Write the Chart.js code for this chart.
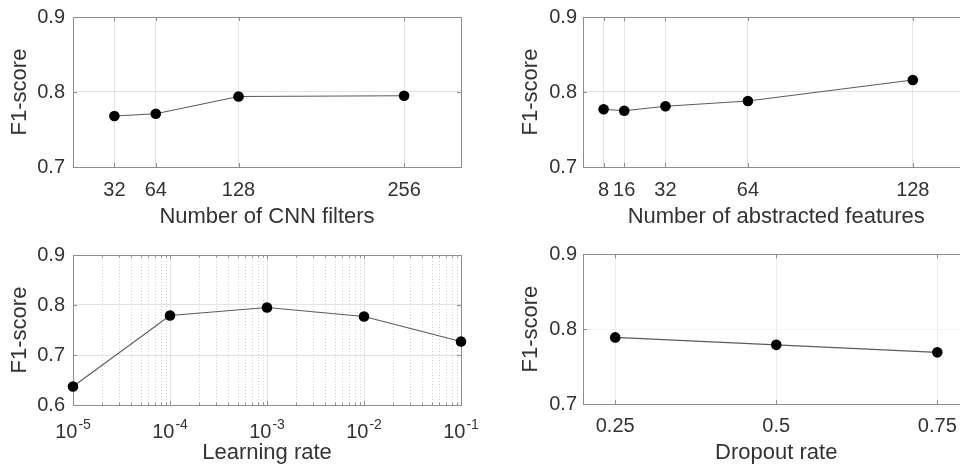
<!DOCTYPE html>
<html>
<head>
<meta charset="utf-8">
<title>F1-score vs hyperparameters</title>
<script src="https://cdn.jsdelivr.net/npm/chart.js@4.4.1/dist/chart.umd.min.js"></script>
<style>
  html, body { margin: 0; padding: 0; background: #fff; }
  #wrap { position: relative; width: 960px; height: 471px; overflow: hidden; }
  #wrap canvas { position: absolute; }
</style>
</head>
<body>
<div id="wrap">
  <canvas id="cnn" width="480" height="235" style="left:0;top:0"></canvas>
  <canvas id="feat" width="500" height="235" style="left:480px;top:0"></canvas>
  <canvas id="lr" width="480" height="236" style="left:0;top:235px"></canvas>
  <canvas id="drop" width="500" height="236" style="left:480px;top:235px"></canvas>
</div>
<script>
// data
const cnnFilters = [32, 64, 128, 256];
const cnnF1 = [0.768, 0.771, 0.794, 0.795];

const absFeatures = [8, 16, 32, 64, 128];
const absF1 = [0.777, 0.775, 0.781, 0.788, 0.816];

const learningRates = [1e-5, 1e-4, 1e-3, 1e-2, 1e-1];
const lrF1 = [0.637, 0.779, 0.795, 0.777, 0.727];
const lrTickExp = ['-5', '-4', '-3', '-2', '-1'];

const dropoutRates = [0.25, 0.5, 0.75];
const dropF1 = [0.789, 0.779, 0.769];

const TEXT = '#333333';
const GRID = '#e4e4e4';
const BOX = '#8e8e8e';
const FONT = "'Liberation Sans', Arial, sans-serif";

Chart.defaults.font.family = FONT;
Chart.defaults.color = TEXT;

// matlab-style axes box, inward tick marks, dotted minor grid on log axes
const axesBox = {
  id: 'axesBox',
  beforeDatasetsDraw(chart) {
    const { ctx, chartArea: a, scales: { x, y } } = chart;
    const seg = (x1, y1, x2, y2) => { ctx.beginPath(); ctx.moveTo(x1, y1); ctx.lineTo(x2, y2); ctx.stroke(); };
    ctx.save();
    ctx.lineWidth = 1;
    const minor = [];
    if (x.type === 'logarithmic') {
      for (let e = -5; e < -1; e++) {
        for (let m = 2; m <= 9; m++) minor.push(m * Math.pow(10, e));
      }
      ctx.strokeStyle = '#d2d2d2';
      ctx.setLineDash([1, 2]);
      minor.forEach(v => {
        const px = Math.round(x.getPixelForValue(v)) + 0.5;
        seg(px, a.top, px, a.bottom);
      });
      ctx.setLineDash([]);
    }
    ctx.strokeStyle = BOX;
    ctx.strokeRect(Math.round(a.left) + 0.5, Math.round(a.top) + 0.5,
      Math.round(a.right - a.left), Math.round(a.bottom - a.top));
    x.ticks.forEach(t => {
      const px = Math.round(x.getPixelForValue(t.value)) + 0.5;
      seg(px, a.bottom, px, a.bottom - 4);
      seg(px, a.top, px, a.top + 4);
    });
    minor.forEach(v => {
      const px = Math.round(x.getPixelForValue(v)) + 0.5;
      seg(px, a.bottom, px, a.bottom - 2.5);
      seg(px, a.top, px, a.top + 2.5);
    });
    y.ticks.forEach(t => {
      const py = Math.round(y.getPixelForValue(t.value)) + 0.5;
      seg(a.left, py, a.left + 4, py);
      seg(a.right, py, a.right - 4, py);
    });
    ctx.restore();
  }
};

// power-of-ten tick labels (10 with a raised exponent)
const powerLabels = {
  id: 'powerLabels',
  afterDraw(chart) {
    const x = chart.scales.x;
    if (x.type !== 'logarithmic') return;
    const { ctx, chartArea: a } = chart;
    ctx.save();
    ctx.fillStyle = TEXT;
    ctx.textBaseline = 'middle';
    ctx.textAlign = 'left';
    x.ticks.forEach((t, i) => {
      const px = x.getPixelForValue(t.value);
      ctx.font = '20px ' + FONT;
      const wb = ctx.measureText('10').width;
      ctx.font = '14px ' + FONT;
      const we = ctx.measureText(lrTickExp[i]).width;
      const x0 = px - (wb + 1 + we) / 2;
      ctx.font = '20px ' + FONT;
      ctx.fillText('10', x0, a.bottom + 27);
      ctx.font = '14px ' + FONT;
      ctx.fillText(lrTickExp[i], x0 + wb + 1, a.bottom + 20);
    });
    ctx.restore();
  }
};

function makePanel(id, p) {
  const xScale = {
    type: p.logX ? 'logarithmic' : 'linear',
    min: p.xMin, max: p.xMax,
    afterBuildTicks: s => { s.ticks = p.xTicks.map(v => ({ value: v })); },
    ticks: {
      autoSkip: false, maxRotation: 0, padding: p.xTickPad,
      font: { size: 20 }, color: TEXT,
      callback: p.logX ? (() => '') : (v => String(v))
    },
    grid: { color: p.xGrid || GRID, drawTicks: false },
    border: { display: false },
    title: { display: true, text: p.xTitle, color: TEXT, font: { size: 22 }, padding: { top: 0, bottom: 5 } },
    afterFit: s => { s.height = p.xHeight; s.paddingLeft = 0; s.paddingRight = 0; }
  };
  const yScale = {
    min: p.yMin, max: p.yMax,
    ticks: { stepSize: 0.1, padding: p.yTickPad, font: { size: 20 }, color: TEXT, callback: v => v.toFixed(1) },
    grid: { color: p.yGrid || GRID, drawTicks: false },
    border: { display: false },
    title: { display: true, text: 'F1-score', color: TEXT, font: { size: 22 }, padding: { top: p.yTitlePad, bottom: 0 } },
    afterFit: s => { s.width = p.yWidth; s.paddingTop = 0; s.paddingBottom = 0; }
  };
  return new Chart(document.getElementById(id), {
    type: 'line',
    data: {
      datasets: [{
        data: p.xs.map((x, i) => ({ x, y: p.ys[i] })),
        borderColor: '#5c5c5c',
        borderWidth: 1.2,
        pointRadius: 5.3,
        pointBackgroundColor: '#000',
        pointBorderColor: '#000',
        pointBorderWidth: 0,
        tension: 0,
        clip: false
      }]
    },
    options: {
      responsive: false,
      animation: false,
      events: [],
      layout: { padding: { top: p.top, right: p.right, left: 0, bottom: 0 } },
      plugins: { legend: { display: false }, tooltip: { enabled: false } },
      scales: { x: xScale, y: yScale }
    },
    plugins: [axesBox, powerLabels]
  });
}

makePanel('cnn', {
  xs: cnnFilters, ys: cnnF1, xTicks: cnnFilters, xMin: 0, xMax: 300,
  yMin: 0.7, yMax: 0.9, xTitle: 'Number of CNN filters',
  top: 17, right: 19, yWidth: 73, xHeight: 68, xTickPad: 11, yTickPad: 8, yTitlePad: 7
});

makePanel('feat', {
  xs: absFeatures, ys: absF1, xTicks: absFeatures, xMin: 0, xMax: 150,
  yMin: 0.7, yMax: 0.9, xTitle: 'Number of abstracted features',
  top: 17, right: 10.5, yWidth: 103, xHeight: 68, xTickPad: 11, yTickPad: 6, yTitlePad: 38
});

makePanel('lr', {
  xs: learningRates, ys: lrF1, xTicks: learningRates, xMin: 1e-5, xMax: 1e-1, logX: true,
  yMin: 0.6, yMax: 0.9, xTitle: 'Learning rate',
  top: 20, right: 19, yWidth: 73, xHeight: 66, xTickPad: 18, yTickPad: 8, yTitlePad: 7
});

makePanel('drop', {
  xs: dropoutRates, ys: dropF1, xTicks: dropoutRates, xMin: 0.2, xMax: 0.8,
  yMin: 0.7, yMax: 0.9, xTitle: 'Dropout rate',
  top: 19.3, right: 10.5, yWidth: 103, xHeight: 67, xTickPad: 10, yTickPad: 6, yTitlePad: 38,
  xGrid: '#ececec', yGrid: '#f4f4f4'
});
</script>
</body>
</html>
